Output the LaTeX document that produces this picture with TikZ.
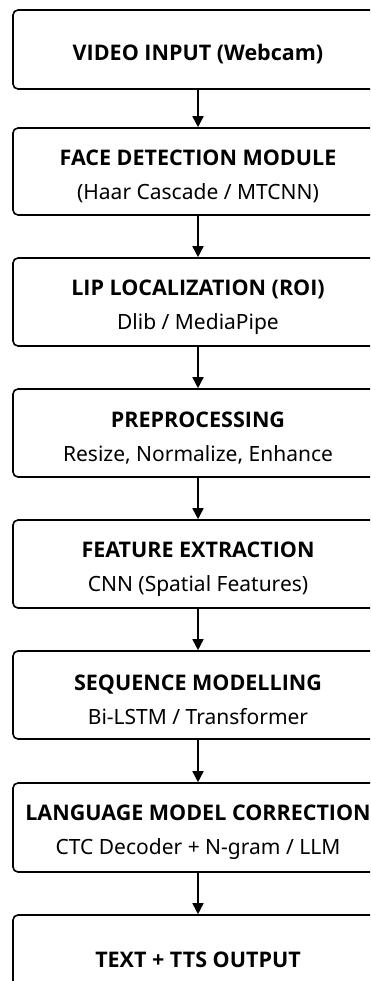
\documentclass[tikz,border=0pt]{standalone}
\usepackage{fontspec}
\setmainfont{Noto Sans}
\newfontfamily\titlefont{Open Sans}
\usepackage{tikz}
\usetikzlibrary{arrows.meta}

\tikzset{
  stagebox/.style={draw, line width=1.6pt, rounded corners=5pt,
    minimum width=370pt, inner sep=0pt, align=center,
    font=\fontsize{21}{34}\selectfont},
  flowarrow/.style={-{Triangle[length=11pt,width=11pt]}, line width=1.6pt}
}
\newcommand{\stagetitle}[1]{{\titlefont\fontsize{21.5}{34}\selectfont\bfseries\rule{0pt}{26pt}#1}}

\begin{document}
\begin{tikzpicture}[x=1pt,y=-1pt]
	\useasboundingbox (0,0) rectangle (370,981);
	\clip (0,0) rectangle (370,981);
	
	\node[stagebox, minimum height=79pt] (video) at (198,49.5) {\stagetitle{VIDEO INPUT (Webcam)}};
	\node[stagebox, minimum height=87pt] (face) at (198,171.5) {\stagetitle{FACE DETECTION MODULE}\\(Haar Cascade / MTCNN)};
	\node[stagebox, minimum height=88pt] (lip) at (198,302) {\stagetitle{LIP LOCALIZATION (ROI)}\\Dlib / MediaPipe};
	\node[stagebox, minimum height=88pt] (prep) at (198,433) {\stagetitle{PREPROCESSING}\\Resize, Normalize, Enhance};
	\node[stagebox, minimum height=88pt] (feat) at (198,564) {\stagetitle{FEATURE EXTRACTION}\\CNN (Spatial Features)};
	\node[stagebox, minimum height=88pt] (seq) at (198,695) {\stagetitle{SEQUENCE MODELLING}\\Bi-LSTM / Transformer};
	\node[stagebox, minimum height=89pt] (lang) at (198,827.5) {\stagetitle{LANGUAGE MODEL CORRECTION}\\CTC Decoder + N-gram / LLM};
	\node[stagebox, minimum height=79pt] (out) at (198,954.5) {\stagetitle{TEXT + TTS OUTPUT}};
	
	\draw[flowarrow] (video) -- (face);
	\draw[flowarrow] (face) -- (lip);
	\draw[flowarrow] (lip) -- (prep);
	\draw[flowarrow] (prep) -- (feat);
	\draw[flowarrow] (feat) -- (seq);
	\draw[flowarrow] (seq) -- (lang);
	\draw[flowarrow] (lang) -- (out);
\end{tikzpicture}
\end{document}
